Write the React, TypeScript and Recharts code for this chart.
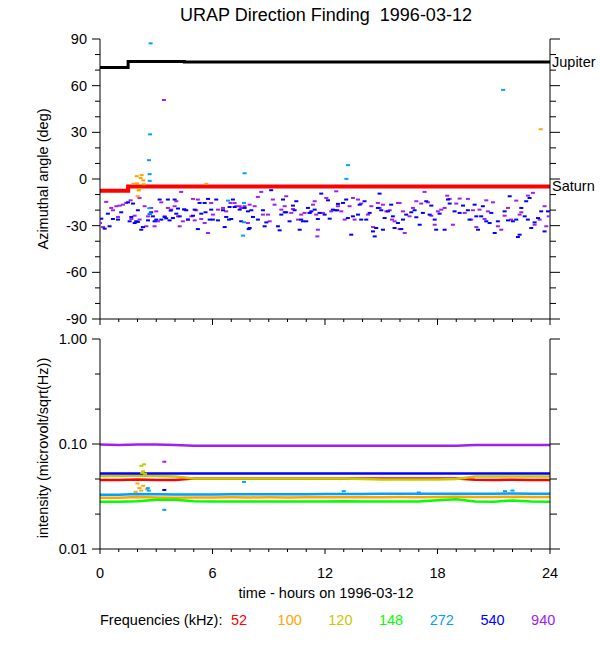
import React from 'react';
import { ComposedChart, Line, Scatter, XAxis, YAxis } from 'recharts';

const FONT = '"Liberation Sans", Arial, Helvetica, sans-serif';

const titleText = 'URAP Direction Finding  1996-03-12';
const topYLabel = 'Azimuthal angle (deg)';
const bottomYLabel = 'intensity (microvolt/sqrt(Hz))';
const xTitle = 'time - hours on 1996-03-12';
const legendTitle = 'Frequencies (kHz):';

const hourTicks = [0, 1, 2, 3, 4, 5, 6, 7, 8, 9, 10, 11, 12, 13, 14, 15, 16, 17, 18, 19, 20, 21, 22, 23, 24];
const hourLabelTicks = [0, 6, 12, 18, 24];
const angleTicks = [-90, -80, -70, -60, -50, -40, -30, -20, -10, 0, 10, 20, 30, 40, 50, 60, 70, 80, 90];
const angleLabelTicks = [-90, -60, -30, 0, 30, 60, 90];
const intensityTicks = [0.01, 0.0215, 0.0464, 0.1, 0.215, 0.464, 1];
const intensityLabelTicks = [0.01, 0.1, 1];
const intensityLabelText = ['0.01', '0.10', '1.00'];

const freqLabels = ['52', '100', '120', '148', '272', '540', '940'];
const freqColors = ['#ff0000', '#ffa500', '#c8c800', '#00ff00', '#00a0ff', '#0000ff', '#a020f0'];

// Planet directions (hours, degrees)
const jupiterDir: [number, number][] = [[0, 71.7], [1.5, 75.6], [4.5, 75.2], [24, 75.2]];
const saturnDir: [number, number][] = [[0, -7.6], [1.5, -4.8], [24, -4.8]];

// Azimuth scatter per frequency (hours, degrees)
const az540: [number, number][] = [
  [0.07, -25.5], [0.25, -31.9], [0.51, -30.4], [0.42, -22.3], [0.69, -25.7], [0.96, -26.1], [1.13, -21.4],
  [1.49, -15.0], [1.58, -27.2], [1.67, -24.4], [1.76, -15.8], [1.85, -28.3], [1.93, -27.2], [2.02, -20.1],
  [2.02, -27.6], [2.2, -32.6], [2.29, -30.9], [2.56, -26.6], [2.65, -22.5], [2.73, -21.4], [2.82, -24.0],
  [2.91, -27.2], [3.0, -26.1], [3.18, -13.2], [3.27, -26.1], [3.45, -24.4], [3.53, -25.3], [3.62, -13.2],
  [3.71, -26.6], [3.77, -20.3], [3.89, -25.1], [3.98, -13.2], [4.07, -22.3], [4.16, -19.0], [4.25, -24.0],
  [4.48, -19.5], [4.6, -20.1], [4.69, -26.1], [4.96, -23.6], [5.05, -19.7], [5.22, -32.2], [5.31, -15.4],
  [5.4, -22.3], [5.58, -15.4], [5.63, -21.4], [5.76, -12.8], [5.85, -26.1], [5.93, -19.7], [6.02, -26.1],
  [6.2, -13.2], [6.29, -26.6], [6.56, -20.1], [6.65, -30.9], [6.73, -24.4], [6.88, -26.1], [6.91, -18.0],
  [7.0, -25.7], [7.09, -13.2], [7.18, -18.0], [7.45, -19.7], [7.53, -27.2], [7.71, -18.6], [7.89, -20.8],
  [7.93, -32.2],
  [8.07, -20.1], [7.98, -31.5], [8.16, -24.4], [8.42, -26.1], [8.69, -20.1], [8.78, -30.4], [8.87, -27.9],
  [9.13, -7.2], [9.49, -30.4], [9.58, -33.0], [9.67, -22.9], [9.76, -13.2], [9.85, -21.4], [9.93, -21.4],
  [10.11, -27.2], [10.29, -17.1], [10.38, -20.1], [10.47, -14.3], [10.65, -32.6], [10.73, -26.1], [10.82, -27.2],
  [11.0, -27.2], [11.09, -18.6], [11.18, -21.8], [11.27, -20.8], [11.45, -19.7], [11.62, -25.7], [11.71, -21.8],
  [11.8, -9.4], [11.98, -22.9], [12.16, -13.7], [12.25, -25.5], [12.42, -19.7], [12.55, -20.1], [12.65, -20.1],
  [12.69, -16.0], [12.96, -15.4], [13.13, -13.2], [13.22, -25.1], [13.4, -35.8], [13.49, -24.0], [13.76, -22.9],
  [13.85, -16.5], [13.93, -26.1], [14.11, -14.3], [14.2, -26.1], [14.38, -21.8], [14.56, -33.7], [14.65, -36.9],
  [14.73, -31.5], [14.82, -18.6], [14.91, -9.4], [15.0, -20.1], [15.09, -32.6], [15.18, -25.1], [15.36, -20.8],
  [15.53, -16.5], [15.62, -24.0], [15.71, -31.5], [15.89, -28.3],
  [16.07, -32.2], [16.16, -26.1], [16.33, -22.9], [16.6, -21.4], [16.78, -20.1], [16.87, -24.6], [17.05, -29.4],
  [17.22, -21.8], [17.4, -14.3], [17.58, -22.9], [17.67, -17.1], [17.85, -26.1], [17.93, -32.6], [18.11, -22.3],
  [18.38, -32.6], [18.56, -13.2], [18.65, -15.8], [18.91, -20.8], [19.18, -21.8], [19.36, -17.1], [19.62, -20.1],
  [19.71, -26.1], [19.98, -16.5], [20.07, -24.0], [20.16, -32.6], [20.33, -24.0], [20.42, -17.5], [20.6, -27.2],
  [20.78, -28.3], [20.87, -21.8], [21.05, -34.7], [21.22, -27.2], [21.58, -20.8], [21.76, -26.6], [21.85, -11.1],
  [22.02, -27.2], [22.2, -26.1], [22.29, -37.3], [22.38, -35.8], [22.47, -18.6], [22.65, -24.0], [22.73, -14.3],
  [22.82, -26.1], [22.91, -12.2], [23.0, -31.5], [23.18, -27.9], [23.36, -25.1], [23.53, -20.8], [23.71, -33.7],
  [23.89, -20.8],
];

const az940: [number, number][] = [
  [0.0, -28.3], [0.16, -30.9], [0.33, -14.7], [0.6, -18.6], [0.69, -20.1], [0.87, -17.5], [0.96, -24.4],
  [1.05, -17.1], [1.22, -16.5], [1.4, -15.4], [1.63, -13.7], [1.67, -25.7], [1.85, -23.6], [2.11, -12.2],
  [2.11, -26.1], [2.38, -17.5], [2.47, -30.4], [2.56, -24.0], [2.73, -18.6], [2.91, -30.4], [3.0, -20.8],
  [3.09, -27.2], [3.27, -15.0], [3.41, 50.8], [3.45, -24.0], [3.62, -18.6], [3.8, -19.7], [3.98, -17.5],
  [4.07, -14.3], [4.16, -24.0], [4.25, -30.4], [4.33, -8.3], [4.42, -27.2], [4.51, -19.7], [4.69, -26.1],
  [4.87, -24.0], [4.96, -12.8], [5.05, -26.6], [5.13, -20.1], [5.22, -13.2], [5.4, -25.7], [5.58, -28.3],
  [5.76, -34.7], [5.93, -15.4], [6.02, -22.9], [6.29, -19.7], [6.56, -18.6], [6.73, -20.8], [6.96, -15.4],
  [7.18, -15.4], [7.27, -17.5], [7.45, -17.5], [7.53, -18.6], [7.71, -17.5], [7.89, -28.3],
  [7.98, -16.5], [8.25, -17.5], [8.42, -11.5], [8.6, -8.3], [8.69, -22.9], [8.96, -22.9], [9.05, -27.2],
  [9.22, -13.2], [9.31, -16.5], [9.67, -19.7], [9.85, -17.5], [9.93, -11.1], [10.2, -21.8], [10.29, -19.3],
  [10.56, -26.1], [10.73, -22.9], [10.91, -21.8], [11.18, -21.8], [11.36, -16.5], [11.45, -14.3], [11.53, -22.9],
  [11.59, -36.9], [11.62, -32.6], [11.89, -21.8], [12.07, -12.2], [12.33, -20.8], [12.6, -7.9], [12.69, -17.5],
  [12.87, -20.8], [13.05, -26.1], [13.31, -17.5], [13.49, -12.2], [13.58, -26.1], [13.76, -13.2], [13.93, -15.8],
  [14.29, -22.9], [14.47, -17.5], [14.56, -30.9], [14.82, -15.4], [14.91, -18.6], [15.09, -16.5], [15.27, -20.8],
  [15.45, -20.1], [15.57, -26.1], [15.71, -27.2], [15.89, -15.4], [15.98, -32.2],
  [15.98, -15.4], [16.16, -20.8], [16.25, -34.7], [16.51, -24.0], [16.69, -18.6], [16.87, -14.3], [17.13, -15.8],
  [17.31, -8.3], [17.49, -15.0], [17.67, -23.6], [17.85, -29.4], [18.02, -20.8], [18.2, -19.7], [18.38, -18.6],
  [18.52, -10.7], [18.65, -12.8], [18.82, -29.4], [19.0, -15.8], [19.18, -12.6], [19.45, -21.8], [19.62, -12.8],
  [19.8, -26.1], [19.89, -20.1], [20.07, -30.9], [20.24, -19.7], [20.51, -25.7], [20.6, -13.7], [20.69, -20.8],
  [20.96, -15.0], [21.22, -30.4], [21.4, -32.6], [21.58, -23.6], [21.76, -18.6], [21.93, -26.1], [22.2, -13.9],
  [22.38, -22.9], [22.47, -21.4], [22.82, -10.7], [23.09, -8.9], [23.18, -29.4], [23.45, -26.1], [23.71, -17.5],
  [23.8, -30.4], [23.93, -24.0],
];

const az272: [number, number][] = [
  [2.61, 12.1], [2.65, 3.1], [2.65, -1.2], [2.7, 87.2], [2.67, 28.7], [2.63, -18.8], [2.67, -22.3],
  [6.83, -13.9], [7.68, -15.4], [7.71, 3.7], [7.68, -27.8], [7.63, -36.4], [13.14, 0.1], [13.23, 8.9],
  [21.5, 57.3],
];

const az100: [number, number][] = [
  [1.96, 1.8], [2.22, 2.5], [1.78, -3.1], [1.98, -2.8], [2.31, -0.8], [2.17, 0.6], [2.33, -3.4],
  [2.1, -6.5], [2.01, -11.1], [2.06, -7.4], [5.67, -3.1], [23.5, 32.0],
];

// Intensity per frequency, hourly (microvolt/sqrt(Hz))
const lineHours = [0, 1, 2, 3, 4, 5, 6, 7, 8, 9, 10, 11, 12, 13, 14, 15, 16, 17, 18, 19, 20, 21, 22, 23, 24];
const int52 = [0.0455, 0.0455, 0.046, 0.0455, 0.0455, 0.047, 0.047, 0.047, 0.047, 0.047, 0.047, 0.047, 0.047, 0.047, 0.047, 0.047, 0.047, 0.047, 0.047, 0.0468, 0.0456, 0.0455, 0.0456, 0.0455, 0.0455];
const int100 = [0.0308, 0.0308, 0.0312, 0.031, 0.0308, 0.031, 0.031, 0.0311, 0.031, 0.0311, 0.031, 0.0311, 0.0311, 0.0311, 0.0311, 0.0311, 0.0312, 0.0311, 0.0312, 0.0314, 0.0312, 0.0312, 0.0314, 0.0312, 0.0312];
const int120 = [0.0495, 0.0495, 0.05, 0.0495, 0.049, 0.047, 0.047, 0.047, 0.047, 0.047, 0.047, 0.047, 0.0468, 0.0468, 0.0465, 0.046, 0.046, 0.046, 0.046, 0.0465, 0.049, 0.049, 0.049, 0.049, 0.049];
const int148 = [0.0282, 0.0282, 0.0285, 0.0294, 0.0294, 0.0285, 0.0283, 0.0283, 0.0284, 0.0283, 0.0283, 0.0284, 0.0283, 0.0285, 0.0283, 0.0283, 0.0283, 0.0284, 0.0292, 0.0298, 0.0283, 0.0282, 0.029, 0.0283, 0.0282];
const int272 = [0.0329, 0.0329, 0.0334, 0.0332, 0.033, 0.033, 0.0331, 0.0332, 0.0332, 0.0332, 0.0332, 0.0333, 0.0334, 0.0334, 0.0334, 0.0335, 0.0335, 0.0336, 0.0336, 0.0336, 0.0336, 0.0336, 0.0338, 0.0336, 0.0336];
const int540 = [0.0525, 0.0525, 0.0525, 0.0524, 0.0523, 0.0523, 0.0523, 0.0523, 0.0523, 0.0523, 0.0523, 0.0523, 0.0523, 0.0523, 0.0523, 0.0523, 0.0523, 0.0523, 0.0523, 0.0523, 0.0523, 0.0523, 0.0523, 0.0523, 0.0523];
const int940 = [0.099, 0.098, 0.099, 0.099, 0.098, 0.096, 0.096, 0.096, 0.096, 0.096, 0.096, 0.096, 0.096, 0.096, 0.096, 0.096, 0.096, 0.096, 0.096, 0.096, 0.098, 0.098, 0.098, 0.098, 0.098];

// Intensity outliers (hours, value)
const out120: [number, number][] = [[2.2, 0.062], [2.35, 0.064], [2.3, 0.055], [2.25, 0.053], [2.4, 0.052]];
const out100: [number, number][] = [[1.9, 0.035], [2.0, 0.042], [2.1, 0.038], [2.2, 0.036], [2.3, 0.04], [2.5, 0.037]];
const out272: [number, number][] = [[2.55, 0.038], [2.6, 0.036], [3.43, 0.0236], [7.68, 0.0436], [13.0, 0.0355], [17.0, 0.0345], [21.6, 0.0355], [22.0, 0.036]];
const out540: [number, number][] = [[3.43, 0.0365]];
const out940: [number, number][] = [[3.43, 0.0678]];

const toXY = (pairs: [number, number][]) => pairs.map(([x, y]) => ({ x, y }));
const seriesXY = (vals: number[]) => lineHours.map((h, i) => ({ x: h, y: vals[i] }));

const intensitySeries = [int52, int100, int120, int148, int272, int540, int940];
const intensityOut = [null, out100, out120, null, out272, out540, out940];

const isIn = (list: number[], v: number) => list.some((m) => Math.abs(m - v) < 1e-9);

const textStyle = { fontFamily: FONT, fontSize: 14.5, fill: '#000' } as const;

const makeLeftTick = (majors: number[], fmt: (v: number) => string, majLen: number, minLen: number) => (props: any) => {
  const { x, y, payload } = props;
  const v = payload.value;
  const major = isIn(majors, v);
  const len = major ? majLen : minLen;
  return (
    <g>
      <line x1={x - len} x2={x} y1={y} y2={y} stroke="#000" strokeWidth={1} />
      {major && (
        <text x={x - 13} y={y} dy={5} textAnchor="end" style={textStyle}>
          {fmt(v)}
        </text>
      )}
    </g>
  );
};

const makeRightTick = (majors: number[], majLen: number, minLen: number) => (props: any) => {
  const { x, y, payload } = props;
  const len = isIn(majors, payload.value) ? majLen : minLen;
  return <line x1={x} x2={x + len} y1={y} y2={y} stroke="#000" strokeWidth={1} />;
};

const makeTopTick = (majLen: number, minLen: number) => (props: any) => {
  const { x, y, payload } = props;
  const len = isIn(hourLabelTicks, payload.value) ? majLen : minLen;
  return <line x1={x} x2={x} y1={y - len} y2={y} stroke="#000" strokeWidth={1} />;
};

const makeBottomTick = (majLen: number, minLen: number, withLabels: boolean) => (props: any) => {
  const { x, y, payload } = props;
  const major = isIn(hourLabelTicks, payload.value);
  const len = major ? majLen : minLen;
  return (
    <g>
      <line x1={x} x2={x} y1={y} y2={y + len} stroke="#000" strokeWidth={1} />
      {withLabels && major && (
        <text x={x} y={y + 29} textAnchor="middle" style={textStyle}>
          {String(payload.value)}
        </text>
      )}
    </g>
  );
};

const DashDot = (props: any) => {
  const { cx, cy, fill } = props;
  if (cx == null || cy == null) return null;
  return <rect x={cx - 2} y={cy - 1} width={4} height={2} fill={fill} />;
};

const planetLabel = (name: string, count: number) => (props: any) => {
  if (props.index !== count - 1) return null;
  return (
    <text x={props.x + 2} y={props.y} dy={5} textAnchor="start" style={textStyle}>
      {name}
    </text>
  );
};

const axisLineStyle = { stroke: '#000', strokeWidth: 1 };

const abs = (left: number, top: number, extra: React.CSSProperties = {}): React.CSSProperties => ({
  position: 'absolute',
  left,
  top,
  fontFamily: FONT,
  fontSize: 14.5,
  color: '#000',
  whiteSpace: 'pre',
  lineHeight: 1,
  ...extra,
});

export default function App() {
  return (
    <div style={{ position: 'absolute', left: 0, top: 0, width: 600, height: 650, background: '#fff', overflow: 'hidden' }}>
      <div style={abs(326, 15, { fontSize: 18, transform: 'translate(-50%, -50%)' })}>{titleText}</div>

      <div style={{ position: 'absolute', left: 0, top: 0 }}>
        <ComposedChart width={600} height={340} margin={{ top: 39, right: 0, bottom: 0, left: 0 }}>
          <XAxis xAxisId="b" type="number" dataKey="x" domain={[0, 24]} ticks={hourTicks} interval={0} allowDataOverflow
            orientation="bottom" height={21} axisLine={axisLineStyle} tickLine={false} tickSize={0} tickMargin={0}
            tick={makeBottomTick(6, 3, false)} />
          <XAxis xAxisId="t" type="number" dataKey="x" domain={[0, 24]} ticks={hourTicks} interval={0} allowDataOverflow
            orientation="top" height={0} axisLine={axisLineStyle} tickLine={false} tickSize={0} tickMargin={0}
            tick={makeTopTick(6, 6)} />
          <YAxis yAxisId="l" type="number" domain={[-90, 90]} ticks={angleTicks} interval={0} allowDataOverflow
            orientation="left" width={100} axisLine={axisLineStyle} tickLine={false} tickSize={0} tickMargin={0}
            tick={makeLeftTick(angleLabelTicks, (v) => String(v), 8, 5)} />
          <YAxis yAxisId="r" type="number" domain={[-90, 90]} ticks={angleTicks} interval={0} allowDataOverflow
            orientation="right" width={50} axisLine={axisLineStyle} tickLine={false} tickSize={0} tickMargin={0}
            tick={makeRightTick(angleLabelTicks, 10, 6)} />
          <Scatter xAxisId="b" yAxisId="l" data={toXY(az940)} dataKey="y" fill={freqColors[6]} shape={DashDot} isAnimationActive={false} />
          <Scatter xAxisId="b" yAxisId="l" data={toXY(az540)} dataKey="y" fill={freqColors[5]} shape={DashDot} isAnimationActive={false} />
          <Scatter xAxisId="b" yAxisId="l" data={toXY(az272)} dataKey="y" fill={freqColors[4]} shape={DashDot} isAnimationActive={false} />
          <Scatter xAxisId="b" yAxisId="l" data={toXY(az100)} dataKey="y" fill={freqColors[1]} shape={DashDot} isAnimationActive={false} />
          <Line xAxisId="b" yAxisId="l" data={toXY(jupiterDir)} dataKey="y" type="stepAfter" stroke="#000" strokeWidth={3}
            dot={false} activeDot={false} isAnimationActive={false} label={planetLabel('Jupiter', jupiterDir.length)} />
          <Line xAxisId="b" yAxisId="l" data={toXY(saturnDir)} dataKey="y" type="stepAfter" stroke="#ff0000" strokeWidth={4}
            dot={false} activeDot={false} isAnimationActive={false} label={planetLabel('Saturn', saturnDir.length)} />
        </ComposedChart>
      </div>

      <div style={{ position: 'absolute', left: 0, top: 300 }}>
        <ComposedChart width={600} height={350} margin={{ top: 39, right: 0, bottom: 0, left: 0 }}>
          <XAxis xAxisId="b" type="number" dataKey="x" domain={[0, 24]} ticks={hourTicks} interval={0} allowDataOverflow
            orientation="bottom" height={101} axisLine={axisLineStyle} tickLine={false} tickSize={0} tickMargin={0}
            tick={makeBottomTick(5, 3, true)} />
          <XAxis xAxisId="t" type="number" dataKey="x" domain={[0, 24]} ticks={hourTicks} interval={0} allowDataOverflow
            orientation="top" height={0} axisLine={axisLineStyle} tickLine={false} tickSize={0} tickMargin={0}
            tick={makeTopTick(4, 2)} />
          <YAxis yAxisId="l" type="number" scale="log" domain={[0.01, 1]} ticks={intensityTicks} interval={0} allowDataOverflow
            orientation="left" width={100} axisLine={axisLineStyle} tickLine={false} tickSize={0} tickMargin={0}
            tick={makeLeftTick(intensityLabelTicks, (v) => intensityLabelText[intensityLabelTicks.findIndex((m) => Math.abs(m - v) < 1e-9)], 8, 5)} />
          <YAxis yAxisId="r" type="number" scale="log" domain={[0.01, 1]} ticks={intensityTicks} interval={0} allowDataOverflow
            orientation="right" width={50} axisLine={axisLineStyle} tickLine={false} tickSize={0} tickMargin={0}
            tick={makeRightTick(intensityLabelTicks, 10, 7)} />
          {intensitySeries.map((vals, i) => (
            <Line key={'l' + i} xAxisId="b" yAxisId="l" data={seriesXY(vals)} dataKey="y" type="linear"
              stroke={freqColors[i]} strokeWidth={2.5} dot={false} activeDot={false} isAnimationActive={false} />
          ))}
          {intensityOut.map((pts, i) =>
            pts ? (
              <Scatter key={'s' + i} xAxisId="b" yAxisId="l" data={toXY(pts)} dataKey="y" fill={freqColors[i]}
                shape={DashDot} isAnimationActive={false} />
            ) : null
          )}
        </ComposedChart>
      </div>

      <div style={abs(43, 179, { transform: 'translate(-50%, -50%) rotate(-90deg)' })}>{topYLabel}</div>
      <div style={abs(43, 448, { transform: 'translate(-50%, -50%) rotate(-90deg)' })}>{bottomYLabel}</div>
      <div style={abs(326, 593, { transform: 'translate(-50%, -50%)' })}>{xTitle}</div>

      <div style={abs(100, 620, { transform: 'translateY(-50%)' })}>{legendTitle}</div>
      {freqLabels.map((f, i) => (
        <div key={f} style={abs(239 + i * 50.7, 620, { transform: 'translate(-50%, -50%)', color: freqColors[i] })}>{f}</div>
      ))}
    </div>
  );
}
